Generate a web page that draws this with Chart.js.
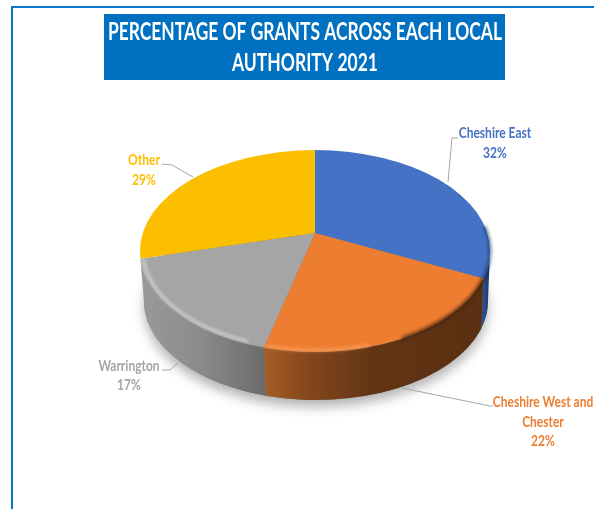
<!DOCTYPE html>
<html>
<head>
<meta charset="utf-8">
<title>Percentage of grants</title>
<script src="https://cdn.jsdelivr.net/npm/chart.js@4/dist/chart.umd.js"></script>
<style>
    html, body { margin: 0; padding: 0; background: #fff; overflow: hidden; }
    #frame { position: absolute; left: 11px; top: 6px; width: 600px; height: 520px; border: 2px solid #0a76c8; box-sizing: border-box; }
    #myChart { position: absolute; left: 0; top: 0; }
</style>
</head>
<body>
<div id="frame"></div>
<canvas id="myChart" width="594" height="509"></canvas>
<script>
const titleLines = ["PERCENTAGE OF GRANTS ACROSS EACH LOCAL", "AUTHORITY 2021"];
const categories = ["Cheshire East", "Cheshire West and Chester", "Warrington", "Other"];
const shares = [32, 22, 17, 29];
const sliceColors = ["#4472c4", "#ed7d31", "#a5a5a5", "#fcbf00"];
const labelLines = [["Cheshire East"], ["Cheshire West and", "Chester"], ["Warrington"], ["Other"]];

// label anchor (centre x, first baseline y, line step) and leader line for each slice
const labelSpots = [
    { x: 495, y: 138, step: 20 },
    { x: 543, y: 407, step: 19.5 },
    { x: 129, y: 371, step: 18.5 },
    { x: 144, y: 165, step: 20 }
];
const leaders = [
    [[448, 182], [452, 138], [458, 138]],
    [[402, 388], [490, 406], [493, 406]],
    [[180, 361], [170, 370], [162, 370]],
    [[193, 177], [172, 165], [162, 164]]
];

// side wall shading per slice, left to right
const wallStops = [
    [[0, "#2a4f94"], [1, "#1b3563"]],
    [[0, "#a65d25"], [0.2, "#84471c"], [0.5, "#623414"], [1, "#5a3012"]],
    [[0, "#9a9a9a"], [0.5, "#8a8a8a"], [1, "#6c6c6c"]],
    [[0, "#d9a300"], [1, "#c09000"]]
];

// disc outlines; the hub sits above the centre of the top face
const topFace = { x: 315, y: 251, rx: 175, ry: 101 };
const baseFace = { x: 316, y: 301, rx: 172, ry: 99 };
const tiltX = 1.2;
const tiltY = 0.69;

// angle on the top face outline reached by a slice edge leaving the hub
function faceAngle(el, angle) {
    const dx = tiltX * Math.cos(angle) / topFace.rx;
    const dy = tiltY * Math.sin(angle) / topFace.ry;
    const ox = (el.x - topFace.x) / topFace.rx;
    const oy = (el.y - topFace.y) / topFace.ry;
    const a = dx * dx + dy * dy;
    const b = 2 * (ox * dx + oy * dy);
    const c = ox * ox + oy * oy - 1;
    const t = (-b + Math.sqrt(b * b - 4 * a * c)) / (2 * a);
    let psi = Math.atan2(oy + t * dy, ox + t * dx);
    if (angle > Math.PI / 2 && psi < 0) psi += Math.PI * 2;
    return psi;
}

function outline(ctx, face, from, to, ccw) {
    ctx.ellipse(face.x, face.y, face.rx, face.ry, 0, from, to, ccw);
}

function softRim(ctx, from, to, color, inset, width) {
    ctx.save();
    ctx.filter = "blur(1.5px)";
    ctx.strokeStyle = color;
    ctx.lineWidth = width;
    ctx.beginPath();
    ctx.ellipse(topFace.x, topFace.y, topFace.rx - inset, topFace.ry - inset, 0, from, to);
    ctx.stroke();
    ctx.restore();
}

const pie3d = {
    id: "pie3d",
    beforeDraw(chart) {
        const ctx = chart.ctx;
        ctx.save();
        ctx.fillStyle = "#0070c0";
        ctx.fillRect(104, 14, 401, 66);
        ctx.fillStyle = "#fff";
        ctx.textAlign = "center";
        ctx.font = "700 24px Lato";
        ctx.fillText(titleLines[0], 305, 40, 394);
        ctx.fillText(titleLines[1], 305, 71, 146);
        ctx.restore();
    },
    beforeDatasetDraw(chart, args) {
        const ctx = chart.ctx;
        const arcs = args.meta.data;
        const hub = arcs[0];

        // drop shadow under the disc
        ctx.save();
        ctx.shadowColor = "rgba(0,0,0,0.3)";
        ctx.shadowBlur = 12;
        ctx.shadowOffsetY = 7;
        ctx.fillStyle = "#777";
        ctx.beginPath();
        outline(ctx, baseFace, 0, Math.PI * 2, false);
        ctx.fill();
        ctx.restore();

        // side walls, only the stretch of each slice facing the viewer
        const ranges = arcs.map(el => [
            Math.max(faceAngle(el, el.startAngle), 0),
            Math.min(faceAngle(el, el.endAngle), Math.PI)
        ]);
        arcs.forEach((el, i) => {
            const [from, to] = ranges[i];
            if (to <= from) return;
            const x1 = topFace.x + topFace.rx * Math.cos(to);
            const x2 = topFace.x + topFace.rx * Math.cos(from);
            const grad = ctx.createLinearGradient(x1, 0, x2, 0);
            wallStops[i].forEach(s => grad.addColorStop(s[0], s[1]));
            ctx.fillStyle = grad;
            ctx.beginPath();
            outline(ctx, topFace, from, to, false);
            outline(ctx, baseFace, to, from, true);
            ctx.closePath();
            ctx.fill();
        });

        // top face: slices tilted about the hub and trimmed to the outline
        ctx.save();
        ctx.beginPath();
        outline(ctx, topFace, 0, Math.PI * 2, false);
        ctx.clip();
        ctx.translate(hub.x, hub.y);
        ctx.scale(tiltX, tiltY);
        ctx.translate(-hub.x, -hub.y);
        arcs.forEach(el => el.draw(ctx));
        ctx.restore();

        // bevel along the near edge
        softRim(ctx, ranges[2][0] + 0.1, ranges[2][1], "rgba(255,255,255,0.45)", 3, 3);
        softRim(ctx, 1.25, ranges[1][1], "rgba(255,170,110,0.6)", 2, 3);
        softRim(ctx, ranges[1][0], 1.05, "rgba(70,35,10,0.7)", 0, 4);
        softRim(ctx, -0.25, ranges[0][1], "rgba(20,40,90,0.6)", 0, 3);
        return false;
    },
    afterDraw(chart) {
        const ctx = chart.ctx;
        ctx.save();
        ctx.textAlign = "center";
        categories.forEach((name, i) => {
            ctx.strokeStyle = "#a6a6a6";
            ctx.lineWidth = 1;
            ctx.beginPath();
            leaders[i].forEach((p, j) => j ? ctx.lineTo(p[0], p[1]) : ctx.moveTo(p[0], p[1]));
            ctx.stroke();

            const spot = labelSpots[i];
            const lines = labelLines[i].concat(shares[i] + "%");
            ctx.fillStyle = sliceColors[i];
            ctx.font = "700 15px Lato";
            lines.forEach((line, j) => {
                const w = ctx.measureText(line).width;
                ctx.fillText(line, spot.x, spot.y + j * spot.step, w * 0.8);
            });
        });
        ctx.restore();
    }
};

new Chart("myChart", {
    type: "pie",
    data: {
        labels: categories,
        datasets: [{
            data: shares,
            backgroundColor: sliceColors,
            borderWidth: 0
        }]
    },
    options: {
        responsive: false,
        animation: false,
        events: [],
        layout: { padding: { left: 140, right: 104, top: 58, bottom: 101 } },
        plugins: {
            legend: { display: false },
            title: { display: false },
            tooltip: { enabled: false }
        }
    },
    plugins: [pie3d]
});
</script>
</body>
</html>
